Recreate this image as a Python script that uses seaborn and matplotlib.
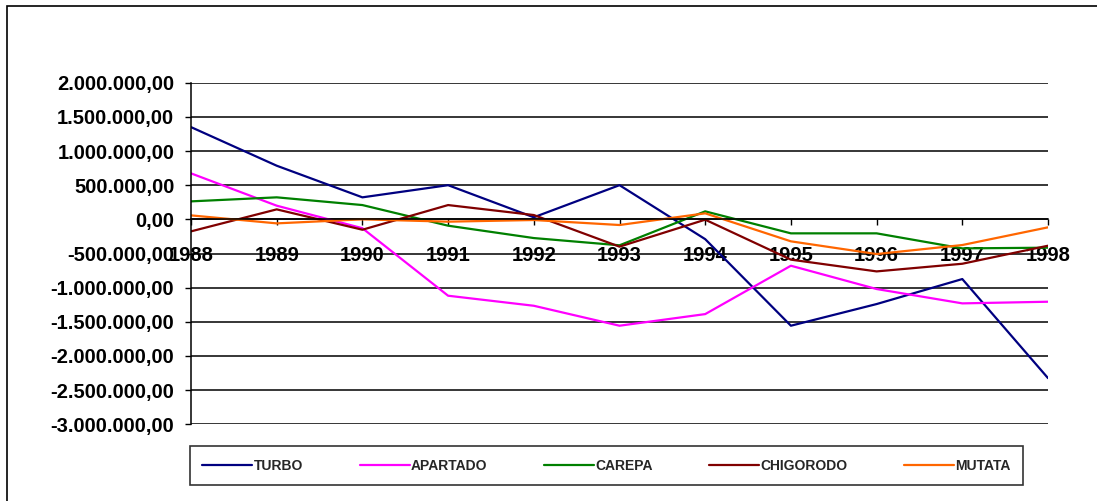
import pandas as pd
import numpy as np
import matplotlib
matplotlib.use("Agg")
import matplotlib.pyplot as plt
import matplotlib.ticker as mticker
from matplotlib.patches import Rectangle
import seaborn as sns

# ---------- datos ----------
anios = [1988, 1989, 1990, 1991, 1992, 1993, 1994, 1995, 1996, 1997, 1998]
turbo = [1350000, 785000, 322000, 500000, 30000, 500000, -290000, -1557000, -1240000, -874000, -2324000]
apartado = [673000, 200000, -130000, -1118000, -1265000, -1557000, -1387000, -679000, -1020000, -1230000, -1206000]
carepa = [263000, 322000, 209000, -93000, -274000, -380000, 117000, -205000, -205000, -425000, -415000]
chigorodo = [-176000, 146000, -152000, 209000, 63000, -400000, -5000, -590000, -762000, -650000, -386000]
mutata = [58000, -59000, 0, -34000, -10000, -83000, 88000, -322000, -508000, -376000, -117000]

municipios = ["TURBO", "APARTADO", "CAREPA", "CHIGORODO", "MUTATA"]
colores = ["#000080", "#FF00FF", "#008000", "#800000", "#FF6600"]

df = pd.DataFrame({"anio": anios, "TURBO": turbo, "APARTADO": apartado,
                   "CAREPA": carepa, "CHIGORODO": chigorodo, "MUTATA": mutata})
largo = df.melt(id_vars="anio", var_name="municipio", value_name="valor")

# ---------- estilo ----------
sns.set_style("white")
plt.rcParams["font.family"] = ["Liberation Sans", "DejaVu Sans"]
plt.rcParams["font.weight"] = "bold"

fig = plt.figure(figsize=(10.97, 5.01), dpi=100)
ax = fig.add_axes([191 / 1097, 1 - 424.3 / 501, (1048 - 191) / 1097, (424.3 - 82.7) / 501])

sns.lineplot(data=largo, x="anio", y="valor", hue="municipio", hue_order=municipios,
             palette=colores, linewidth=1.6, ax=ax, legend=True)

ax.set_xlim(1988, 1998)
ax.set_ylim(-3000000, 2000000)
ax.set_yticks(np.arange(-3000000, 2000001, 500000))
ax.set_xticks(anios)


def formato(v, pos):
    s = f"{v:,.2f}"
    return s.replace(",", "X").replace(".", ",").replace("X", ".")


ax.yaxis.set_major_formatter(mticker.FuncFormatter(formato))
ax.yaxis.grid(True, color="black", linewidth=1.1)
ax.xaxis.grid(False)
ax.set_axisbelow(True)

for lado in ["top", "right"]:
    ax.spines[lado].set_visible(False)
ax.spines["left"].set_color("black")
ax.spines["left"].set_linewidth(1.1)
ax.spines["bottom"].set_position(("data", 0))
ax.spines["bottom"].set_color("black")
ax.spines["bottom"].set_linewidth(1.1)

ax.tick_params(axis="y", left=True, length=4, width=1, pad=8, labelsize=14.5, colors="black")
ax.tick_params(axis="x", bottom=True, direction="out", length=4, width=1, pad=15,
               labelsize=14.5, colors="black")
for t in ax.get_xticklabels() + ax.get_yticklabels():
    t.set_fontweight("bold")

ax.set_xlabel("")
ax.set_ylabel("")

# leyenda abajo
handles, labels = ax.get_legend_handles_labels()
ax.get_legend().remove()
leg = fig.legend(handles, labels, loc="center", ncol=5, mode="expand",
                 bbox_to_anchor=(183 / 1097, 1 - 484 / 501, 847 / 1097, 37 / 501),
                 frameon=True, fancybox=False, edgecolor="black",
                 prop={"size": 10, "weight": "bold"},
                 handlelength=3.6, handletextpad=0.1, columnspacing=3.0,
                 borderpad=0.9)
leg.get_frame().set_linewidth(1.2)
for linea in leg.get_lines():
    linea.set_linewidth(1.6)

# borde exterior del area del grafico
fig.patches.append(Rectangle((7 / 1097, -0.1), 2.0, (1 - 6 / 501) + 0.1,
                             transform=fig.transFigure, fill=False,
                             edgecolor="black", linewidth=1.2))

fig.savefig("out.png", dpi=100)
